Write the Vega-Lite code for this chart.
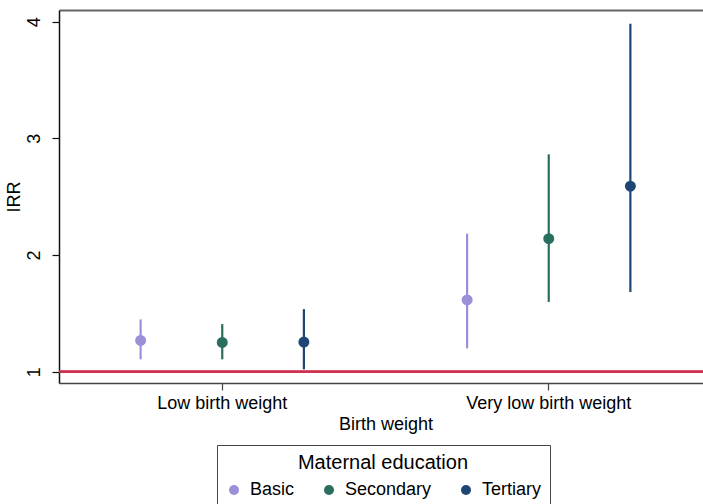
{
  "$schema": "https://vega.github.io/schema/vega-lite/v6.json",
  "autosize": "none",
  "width": 644,
  "height": 373,
  "padding": {"left": 59, "top": 10, "right": 0, "bottom": 121},
  "background": "white",
  "data": {
    "values": [
      {"weight": "Low birth weight", "edu": "Basic", "irr": 1.268, "lo": 1.106, "hi": 1.448},
      {"weight": "Low birth weight", "edu": "Secondary", "irr": 1.251, "lo": 1.106, "hi": 1.408},
      {"weight": "Low birth weight", "edu": "Tertiary", "irr": 1.254, "lo": 1.02, "hi": 1.536},
      {"weight": "Very low birth weight", "edu": "Basic", "irr": 1.615, "lo": 1.2, "hi": 2.183},
      {"weight": "Very low birth weight", "edu": "Secondary", "irr": 2.14, "lo": 1.598, "hi": 2.863},
      {"weight": "Very low birth weight", "edu": "Tertiary", "irr": 2.59, "lo": 1.684, "hi": 3.983}
    ]
  },
  "layer": [
    {
      "mark": {"type": "rule", "color": "#cf3150", "strokeWidth": 1.8},
      "encoding": {
        "y": {"datum": 1, "type": "quantitative", "scale": {"domain": [0.903, 4.1], "nice": false, "zero": false}}
      }
    },
    {
      "mark": {"type": "rule", "strokeWidth": 2.2},
      "encoding": {
        "x": {
          "field": "weight", "type": "nominal",
          "scale": {"type": "band", "range": [0, 653], "paddingInner": 0, "paddingOuter": 0},
          "axis": {"orient": "bottom", "title": "Birth weight", "labelAngle": 0, "domainColor": "#444", "domainWidth": 1.5, "tickColor": "#444", "tickWidth": 1.2, "labelPadding": 4, "titlePadding": 3}
        },
        "xOffset": {"field": "edu", "type": "nominal", "scale": {"type": "point", "padding": 1}},
        "y": {
          "field": "lo", "type": "quantitative",
          "scale": {"domain": [0.903, 4.1], "nice": false, "zero": false},
          "axis": {"title": "IRR", "values": [1, 2, 3, 4], "format": "d", "labelAngle": -90, "labelAlign": "center", "labelBaseline": "bottom", "labelPadding": 9, "domainColor": "#111", "domainWidth": 1.5, "tickColor": "#111", "tickWidth": 1.2, "titlePadding": 2}
        },
        "y2": {"field": "hi"},
        "color": {
          "field": "edu", "type": "nominal", "title": "Maternal education",
          "scale": {"domain": ["Basic", "Secondary", "Tertiary"], "range": ["#9b8fd9", "#2a6e60", "#1d4674"]}
        }
      }
    },
    {
      "mark": {"type": "point", "filled": true, "opacity": 1, "size": 120, "shape": "circle"},
      "encoding": {
        "x": {
          "field": "weight", "type": "nominal",
          "scale": {"type": "band", "range": [0, 653], "paddingInner": 0, "paddingOuter": 0},
          "axis": {"orient": "top", "title": null, "labels": false, "ticks": false, "domainColor": "#666", "domainWidth": 1.8}
        },
        "xOffset": {"field": "edu", "type": "nominal", "scale": {"type": "point", "padding": 1}},
        "y": {"field": "irr", "type": "quantitative", "scale": {"domain": [0.903, 4.1], "nice": false, "zero": false}},
        "color": {
          "field": "edu", "type": "nominal", "title": "Maternal education",
          "scale": {"domain": ["Basic", "Secondary", "Tertiary"], "range": ["#9b8fd9", "#2a6e60", "#1d4674"]}
        }
      }
    }
  ],
  "resolve": {"axis": {"x": "independent"}},
  "config": {
    "view": {"stroke": null},
    "font": "Liberation Sans",
    "axis": {
      "grid": false,
      "tickSize": 7,
      "labelFont": "Liberation Sans",
      "titleFont": "Liberation Sans",
      "labelFontSize": 18,
      "titleFontSize": 18,
      "titleFontWeight": "normal",
      "labelColor": "black",
      "titleColor": "black"
    },
    "legend": {
      "orient": "none",
      "legendX": 158,
      "legendY": 435,
      "direction": "horizontal",
      "columns": 3,
      "columnPadding": 25,
      "symbolType": "circle",
      "symbolSize": 100,
      "symbolStrokeWidth": 0,
      "symbolOpacity": 1,
      "labelFont": "Liberation Sans",
      "titleFont": "Liberation Sans",
      "labelFontSize": 18,
      "labelOffset": 7,
      "labelColor": "black",
      "titleFontSize": 20,
      "titleFontWeight": "normal",
      "titleColor": "black",
      "titleAnchor": "middle",
      "titlePadding": 8,
      "padding": 8,
      "strokeColor": "#444",
      "fillColor": "white"
    }
  }
}
